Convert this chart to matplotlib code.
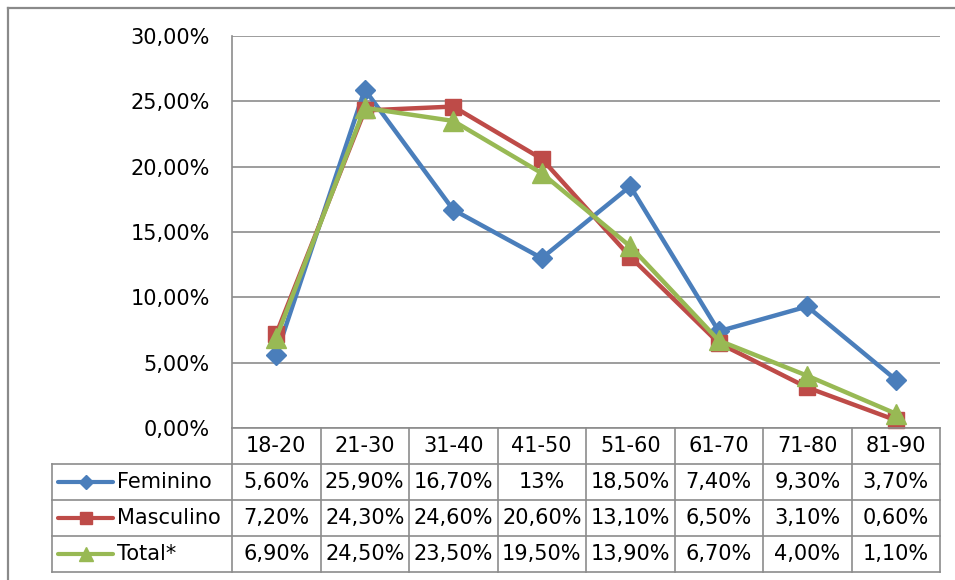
import matplotlib
matplotlib.use("Agg")
import matplotlib.pyplot as plt
from matplotlib.lines import Line2D
from matplotlib.ticker import FuncFormatter

plt.rcParams['font.family'] = ['DejaVu Sans']

# Faixas etárias e percentuais por grupo
faixas = ["18-20", "21-30", "31-40", "41-50", "51-60", "61-70", "71-80", "81-90"]
feminino = [5.6, 25.9, 16.7, 13.0, 18.5, 7.4, 9.3, 3.7]
masculino = [7.2, 24.3, 24.6, 20.6, 13.1, 6.5, 3.1, 0.6]
total = [6.9, 24.5, 23.5, 19.5, 13.9, 6.7, 4.0, 1.1]
series_names = ["Feminino", "Masculino", "Total*"]

# células mostradas sem casas decimais na tabela
sem_decimais = {(0, 3)}

colors = ["#4A7EBB", "#BE4B48", "#98B954"]
markers = ["D", "s", "^"]
msizes = [10, 12, 15]
legend_msizes = [7, 9, 10]
grid_color = "#8C8C8C"
fsize = 15

W, H = 955, 580
fig = plt.figure(figsize=(W / 100, H / 100), dpi=100)


def px_axes(x0, y0, x1, y1):
    """Cria eixos a partir de coordenadas em pixels (origem no topo)."""
    return fig.add_axes([x0 / W, 1 - y1 / H, (x1 - x0) / W, (y1 - y0) / H])


# borda externa do gráfico
fig.add_artist(Line2D([8 / W, 8 / W], [0, 1 - 8 / H], color="#8A8A8A", lw=1.6))
fig.add_artist(Line2D([8 / W, 1], [1 - 8 / H, 1 - 8 / H], color="#8A8A8A", lw=1.6))

# área do gráfico de linhas
ax = px_axes(232, 36, 940, 428)
xs = [i + 0.5 for i in range(len(faixas))]
for vals, c, m, ms in zip([feminino, masculino, total], colors, markers, msizes):
    ax.plot(xs, vals, color=c, lw=3.2, marker=m, markersize=ms, clip_on=False)

ax.set_xlim(0, len(faixas))
ax.set_ylim(0, 30)
ax.set_yticks([0, 5, 10, 15, 20, 25, 30])
ax.yaxis.set_major_formatter(FuncFormatter(lambda v, _: f"{v:.2f}".replace(".", ",") + "%"))
ax.tick_params(axis="y", length=0, pad=16, labelsize=fsize)
ax.set_xticks([])
ax.grid(axis="y", color=grid_color, lw=1.2)
ax.set_axisbelow(True)
for side in ["top", "right", "bottom"]:
    ax.spines[side].set_visible(False)
ax.spines["left"].set_color(grid_color)
ax.spines["left"].set_linewidth(1.2)

# tabela de dados abaixo do gráfico
col_w = (940 - 232) / len(faixas)
label_w = (232 - 52) / col_w
tab = px_axes(52, 428, 940, 572)
tab.set_xlim(-label_w, len(faixas))
tab.set_ylim(4, 0)
tab.axis("off")

lkw = dict(color=grid_color, lw=1.2, clip_on=False)
tab.plot([0, len(faixas)], [0, 0], **lkw)
for r in range(1, 5):
    tab.plot([-label_w, len(faixas)], [r, r], **lkw)
for c in range(len(faixas) + 1):
    tab.plot([c, c], [0, 4], **lkw)
tab.plot([-label_w, -label_w], [1, 4], **lkw)

for i, f in enumerate(faixas):
    tab.text(i + 0.5, 0.5, f, ha="center", va="center", fontsize=fsize)

for r, (name, vals) in enumerate(zip(series_names, [feminino, masculino, total])):
    y = r + 1.5
    x0 = -label_w + 6 / col_w
    x1 = -label_w + 61 / col_w
    tab.plot([x0, x1], [y, y], color=colors[r], lw=3, solid_capstyle="round")
    tab.plot([(x0 + x1) / 2], [y], color=colors[r], marker=markers[r],
             markersize=legend_msizes[r])
    tab.text(-label_w + 65 / col_w, y, name, ha="left", va="center", fontsize=fsize)
    for i, v in enumerate(vals):
        if (r, i) in sem_decimais:
            s = f"{v:.0f}%"
        else:
            s = f"{v:.2f}".replace(".", ",") + "%"
        tab.text(i + 0.5, y, s, ha="center", va="center", fontsize=fsize)

fig.savefig("out.png", dpi=100)
